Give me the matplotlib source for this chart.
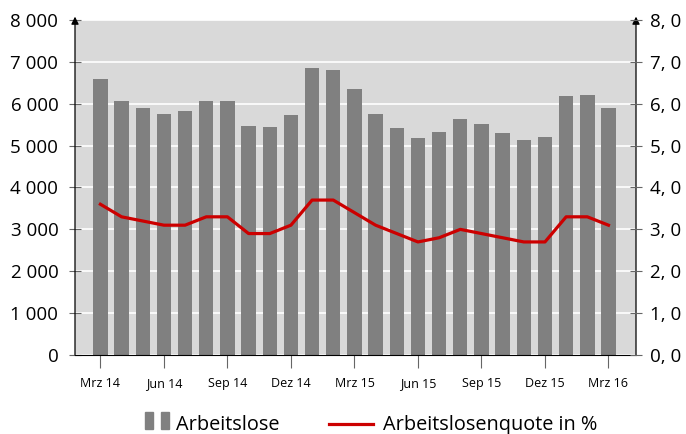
import matplotlib.pyplot as plt
import numpy as np
from matplotlib.patches import Rectangle
from matplotlib.lines import Line2D
from matplotlib.ticker import FuncFormatter

# Data
months = ["Mrz 14", "Apr 14", "Mai 14", "Jun 14", "Jul 14", "Aug 14", "Sep 14",
          "Okt 14", "Nov 14", "Dez 14", "Jan 15", "Feb 15", "Mrz 15", "Apr 15",
          "Mai 15", "Jun 15", "Jul 15", "Aug 15", "Sep 15", "Okt 15", "Nov 15",
          "Dez 15", "Jan 16", "Feb 16", "Mrz 16"]
arbeitslose = [6580, 6060, 5900, 5760, 5820, 6070, 6060, 5480, 5450, 5720,
               6860, 6810, 6350, 5760, 5420, 5190, 5320, 5640, 5520, 5310,
               5130, 5200, 6190, 6200, 5890]
quote = [3.6, 3.3, 3.2, 3.1, 3.1, 3.3, 3.3, 2.9, 2.9, 3.1,
         3.7, 3.7, 3.4, 3.1, 2.9, 2.7, 2.8, 3.0, 2.9, 2.8,
         2.7, 2.7, 3.3, 3.3, 3.1]
labels = ["Arbeitslose", "Arbeitslosenquote in %"]

bar_color = "#808080"
line_color = "#cc0000"
plt.rcParams["font.family"] = ["Open Sans", "DejaVu Sans"]

W, H = 686, 434
x = np.arange(len(months))

fig = plt.figure(figsize=(W / 100, H / 100), dpi=100)
ax = fig.add_axes([75 / W, 1 - 355 / H, 561 / W, 335 / H])
ax.set_facecolor("#d9d9d9")

ax.bar(x, arbeitslose, width=0.68, color=bar_color, zorder=2)
ax.set_xlim(-1.2, 25.3)
ax.set_ylim(0, 8000)
ax.set_yticks(np.arange(0, 8001, 1000))
ax.yaxis.set_major_formatter(FuncFormatter(lambda v, p: f"{int(v):,}".replace(",", " ")))
ax.grid(axis="y", color="white", linewidth=1.2, zorder=1)
ax.set_axisbelow(True)

ax.set_xticks(x[::3])
ax.set_xticklabels(months[::3], fontsize=9)
ax.tick_params(axis="x", direction="out", length=9, color="#666666", pad=7)
ax.tick_params(axis="y", direction="inout", length=8, labelsize=13.5, color="#666666", pad=8)

for s in ["top", "right", "left"]:
    ax.spines[s].set_visible(False)
ax.spines["bottom"].set_color("black")

ax2 = ax.twinx()
ax2.plot(x, quote, color=line_color, linewidth=2.3, zorder=3)
ax2.set_ylim(0, 8)
ax2.set_yticks(np.arange(0, 8.01, 1))
ax2.yaxis.set_major_formatter(FuncFormatter(lambda v, p: f"{v:.1f}".replace(".", ", ")))
ax2.tick_params(axis="y", direction="inout", length=8, labelsize=13.5, color="#666666", pad=6)
for s in ["top", "left", "bottom", "right"]:
    ax2.spines[s].set_visible(False)

# axis arrows
for xf in (0, 1):
    ax.annotate("", xy=(xf, 1.01), xytext=(xf, 0), xycoords="axes fraction",
                arrowprops=dict(arrowstyle="-|>", color="black", lw=0.9,
                                mutation_scale=11, shrinkA=0, shrinkB=0))

# legend drawn in figure pixels
def fy(py):
    return 1 - py / H

for x0 in (145, 161):
    fig.patches.append(Rectangle((x0 / W, fy(429)), 8 / W, 17 / H,
                                 transform=fig.transFigure, color=bar_color))
fig.text(176 / W, fy(430), labels[0], fontsize=14.3, va="baseline", ha="left")
fig.lines.append(Line2D([329 / W, 373 / W], [fy(424), fy(424)],
                        transform=fig.transFigure, color=line_color, linewidth=2.3))
fig.text(383 / W, fy(430), labels[1], fontsize=14.3, va="baseline", ha="left")

fig.savefig("out.png", dpi=100)
